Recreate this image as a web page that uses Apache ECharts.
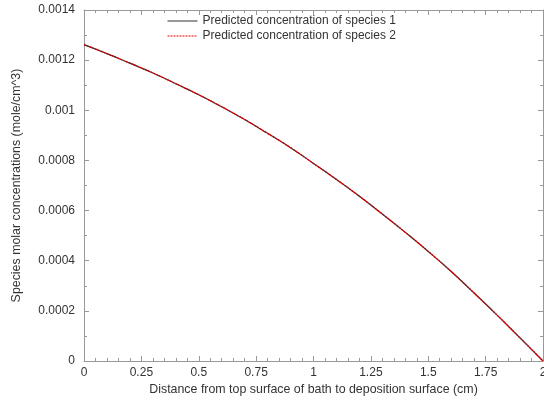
<!DOCTYPE html>
<html>
<head>
<meta charset="utf-8">
<script src="https://cdn.jsdelivr.net/npm/echarts@6/dist/echarts.min.js"></script>
<style>
  html, body { margin: 0; padding: 0; background: #fff; }
  #chart { width: 544px; height: 402px; }
</style>
</head>
<body>
<div id="chart"></div>
<script>
// distance (cm)
var distance = [0, 0.1, 0.2, 0.3, 0.4, 0.5, 0.6, 0.7, 0.8, 0.9, 1.0,
                1.1, 1.2, 1.3, 1.4, 1.5, 1.6, 1.7, 1.8, 1.9, 2.0];
// predicted concentrations (mole/cm^3)
var species1 = [0.001262, 0.001226, 0.001188, 0.001149, 0.001106, 0.001062,
                0.001014, 0.000963, 0.000908, 0.000851, 0.000788, 0.000724,
                0.000657, 0.000586, 0.000513, 0.000437, 0.000357, 0.000271,
                0.000183, 0.000092, 0];
var species2 = [0.001262, 0.001226, 0.001188, 0.001149, 0.001106, 0.001062,
                0.001014, 0.000963, 0.000908, 0.000851, 0.000788, 0.000724,
                0.000657, 0.000586, 0.000513, 0.000437, 0.000357, 0.000271,
                0.000183, 0.000092, 0];
var seriesNames = ['Predicted concentration of species 1', 'Predicted concentration of species 2'];

function pairs(ys) {
    return distance.map(function (x, i) { return [x, ys[i]]; });
}

var font = 'Liberation Sans, Arial, sans-serif';
var axisGray = '#999';
var textColor = '#333';

function frameAxis(opts) {
    return Object.assign({
        type: 'value',
        axisLine: { show: true, onZero: false, lineStyle: { color: axisGray, width: 1 } },
        axisTick: { show: true, inside: true, length: 5, lineStyle: { color: axisGray } },
        splitLine: { show: false },
        axisLabel: { show: true, color: textColor, fontSize: 12, fontFamily: font }
    }, opts);
}

var chart = echarts.init(document.getElementById('chart'));
chart.setOption({
    animation: false,
    textStyle: { fontFamily: font },
    grid: { left: 84, right: 1, top: 10, bottom: 41, outerBoundsMode: 'none', containLabel: false },
    legend: {
        orient: 'vertical',
        left: 167,
        top: 15,
        padding: 0,
        itemWidth: 30,
        itemHeight: 10,
        itemGap: 3,
        itemStyle: { opacity: 0 },
        lineStyle: { width: 1 },
        textStyle: { color: textColor, fontSize: 12, fontFamily: font },
        data: seriesNames
    },
    xAxis: [
        frameAxis({
            min: 0, max: 2, interval: 0.25,
            minorTick: { show: true, splitNumber: 5, length: 3, lineStyle: { color: axisGray } },
            axisLabel: { color: textColor, fontSize: 12, fontFamily: font, margin: 6 },
            name: 'Distance from top surface of bath to deposition surface (cm)',
            nameLocation: 'middle',
            nameGap: 22,
            nameTextStyle: { color: textColor, fontSize: 12.4, fontFamily: font }
        }),
        frameAxis({
            position: 'top',
            min: 0, max: 2, interval: 0.25,
            minorTick: { show: true, splitNumber: 5, length: 3, lineStyle: { color: axisGray } },
            axisLabel: { show: false }
        })
    ],
    yAxis: [
        frameAxis({
            min: 0, max: 0.0014, interval: 0.0002,
            minorTick: { show: true, splitNumber: 2, length: 3, lineStyle: { color: axisGray } },
            axisLabel: {
                color: textColor, fontSize: 12, fontFamily: font, margin: 9,
                formatter: function (v) { return String(+v.toFixed(4)); }
            },
            name: 'Species molar concentrations (mole/cm^3)',
            nameLocation: 'middle',
            nameGap: 61,
            nameTextStyle: { color: textColor, fontSize: 12.4, fontFamily: font }
        }),
        frameAxis({
            position: 'right',
            min: 0, max: 0.0014, interval: 0.0002,
            minorTick: { show: true, splitNumber: 2, length: 3, lineStyle: { color: axisGray } },
            axisLabel: { show: false }
        })
    ],
    series: [
        {
            name: seriesNames[0],
            type: 'line',
            smooth: true,
            showSymbol: false,
            symbol: 'none',
            data: pairs(species1),
            itemStyle: { color: '#333' },
            lineStyle: { color: '#333', width: 1.2, type: 'solid' }
        },
        {
            name: seriesNames[1],
            type: 'line',
            smooth: true,
            showSymbol: false,
            symbol: 'none',
            data: pairs(species2),
            itemStyle: { color: '#e00000' },
            lineStyle: { color: '#e00000', width: 1.3, type: [2, 1] }
        }
    ]
});
</script>
</body>
</html>
